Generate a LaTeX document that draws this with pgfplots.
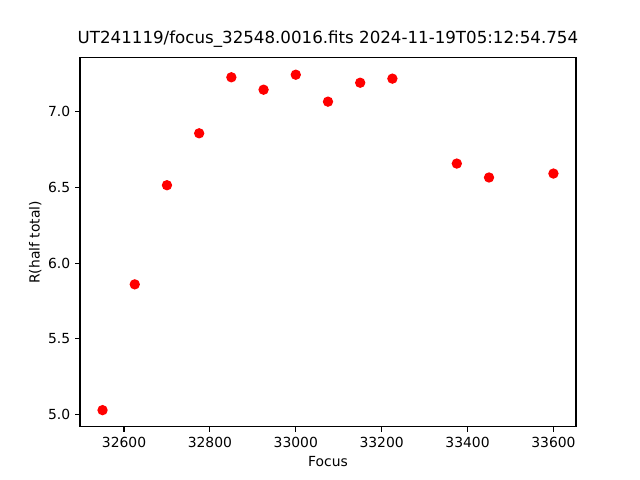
\documentclass[border=0pt]{standalone}
\usepackage{fontspec}
\setmainfont{DejaVu Sans}
\usepackage{pgfplots}
\pgfplotsset{compat=1.18}
\begin{document}
\begin{tikzpicture}
\useasboundingbox (0,0) rectangle (460.8pt,345.6pt);
\begin{axis}[
  at={(57.6pt,38.2pt)}, anchor=south west,
  scale only axis, width=357.1pt, height=265.7pt,
  xmin=32497.5, xmax=33652.5, ymin=4.918, ymax=7.356,
  xtick={32600,32800,33000,33200,33400,33600},
  ytick={5.0,5.5,6.0,6.5,7.0},
  scaled x ticks=false,
  xticklabel style={/pgf/number format/.cd,1000 sep={}},
  yticklabel style={/pgf/number format/.cd,fixed,fixed zerofill,precision=1},
  /pgf/number format/assume math mode=true,
  tick label style={font=\fontsize{10}{12}\selectfont},
  label style={font=\fontsize{10}{12}\selectfont},
  axis line style={line width=0.8pt},
  tick style={line width=0.8pt, black},
  tick align=outside, major tick length=3.5pt,
  xtick pos=bottom, ytick pos=left,
  xlabel={Focus}, ylabel={R(half total)},
  xlabel style={yshift=0pt},
  ylabel style={yshift=-2pt},
  title={UT241119/focus\_32548.0016.fits 2024-11-19T05:12:54.754},
  title style={font=\fontsize{12}{14}\selectfont, yshift=-2pt},
]
\addplot[only marks, mark=*, mark size=3.2pt, mark options={fill=red, draw=red, line width=1pt}] coordinates {
(32550,5.029) (32625,5.860) (32700,6.515) (32775,6.858) (32850,7.228)
(32925,7.146) (33000,7.245) (33075,7.067) (33150,7.192) (33225,7.219)
(33375,6.658) (33450,6.566) (33600,6.592)
};
\end{axis}
\end{tikzpicture}
\end{document}
